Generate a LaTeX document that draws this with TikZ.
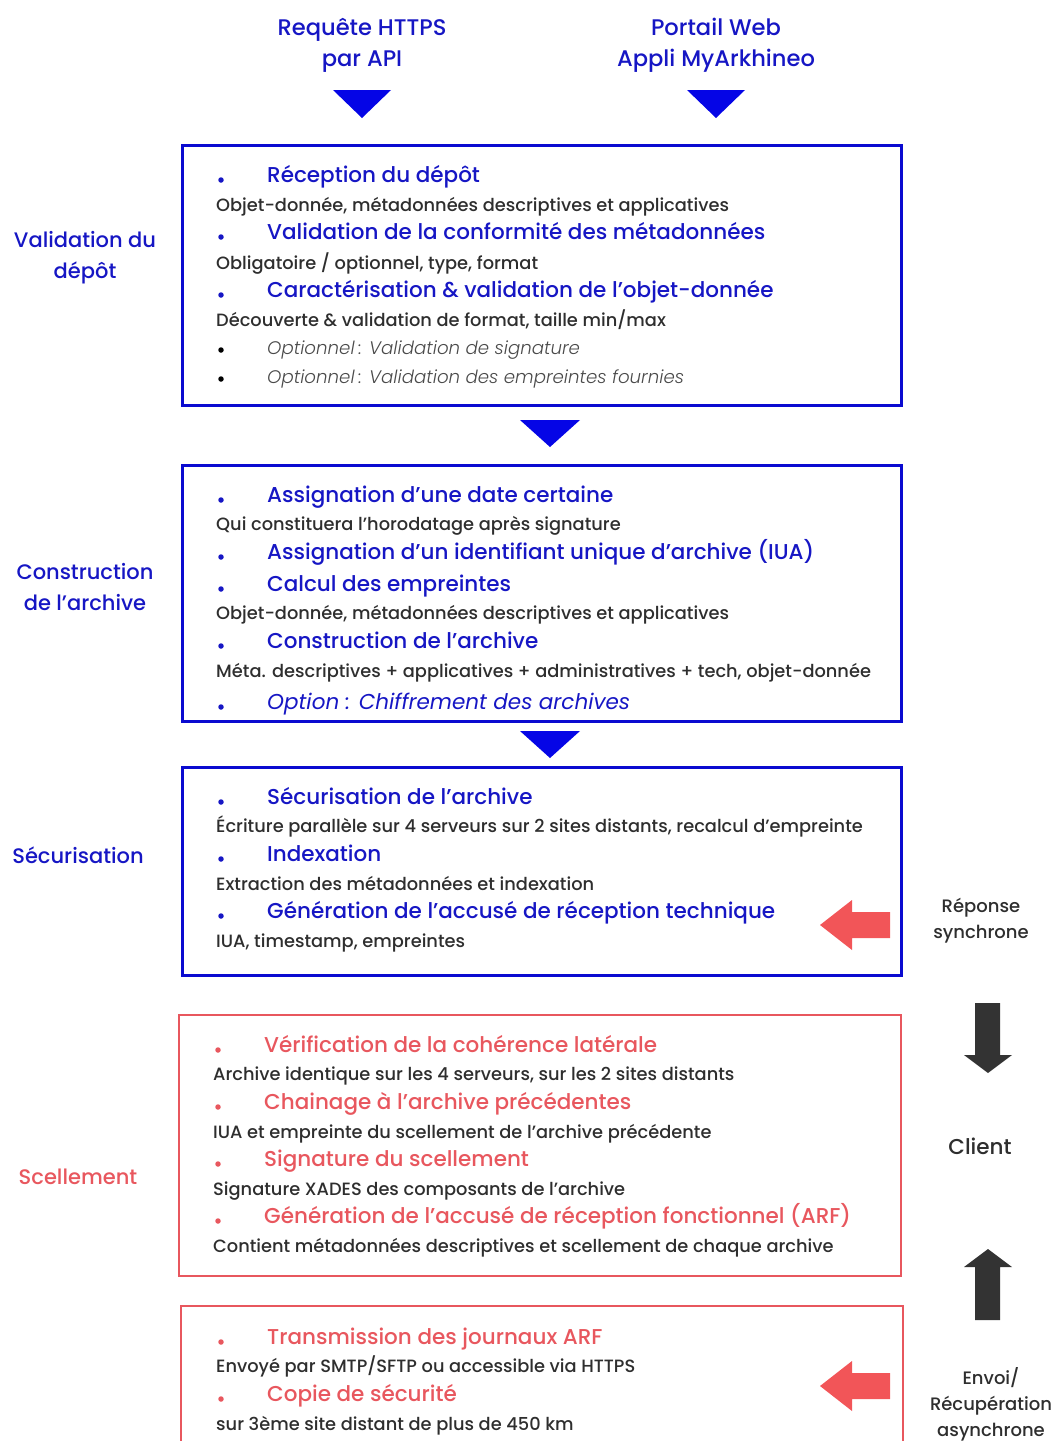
\documentclass[tikz,border=0pt]{standalone}
\usepackage{fontspec}
\IfFontExistsTF{Poppins Medium}
  {\setmainfont{Poppins}[UprightFont=* Medium,ItalicFont=* Italic]}
  {\setmainfont{Poppins}}
\IfFontExistsTF{Poppins Light Italic}
  {\newfontfamily\optfont{Poppins Light Italic}}
  {\newcommand\optfont{\itshape}}
\definecolor{bl}{HTML}{1616C4}
\definecolor{bframe}{HTML}{0A0AD0}
\definecolor{tri}{HTML}{0505E6}
\definecolor{rd}{HTML}{E8575E}
\definecolor{rarrow}{HTML}{F25558}
\definecolor{tx}{HTML}{2E2E2E}
\definecolor{gr}{HTML}{4A4A4A}
\definecolor{dk}{HTML}{333333}
\begin{document}
\begin{tikzpicture}[x=1pt,y=-1pt,
  head/.style={anchor=mid west,inner sep=0,yshift=-4pt,text=bl,font=\fontsize{21.5}{24}\selectfont},
  rhead/.style={head,text=rd},
  body/.style={anchor=mid west,inner sep=0,yshift=-3.5pt,text=tx,font=\fontsize{17.8}{20}\selectfont},
  opt/.style={anchor=mid west,inner sep=0,yshift=-3.5pt,text=gr,font=\fontsize{18.2}{20}\optfont},
  bul/.style={circle,fill=bl,inner sep=0,minimum size=5.5pt},
  rbul/.style={bul,fill=rd},
  kbul/.style={bul,fill=black},
  side/.style={align=center,inner sep=0,text=bl,font=\fontsize{21}{31}\selectfont},
  toplab/.style={anchor=base,inner sep=0,text=bl,font=\fontsize{22.6}{24}\selectfont},
  rlab/.style={align=center,inner sep=0,text=tx,font=\fontsize{18}{26}\selectfont},
  bbox/.style={draw=bframe,line width=3,inner sep=0},
  rbox/.style={draw=rd,line width=2.5,inner sep=0},
  tritip/.style={fill=tri},
  redarrow/.style={fill=rarrow},
  blackarrow/.style={fill=dk}]
\useasboundingbox (0,0) rectangle (1053,1441);
\clip (0,0) rectangle (1053,1441);

% top entries
\node[toplab] (r1) at (362,35) {Requête HTTPS};
\node[toplab] (r2) at (362,66.5) {par API};
\node[toplab] (p1) at (716,35) {Portail Web};
\node[toplab] (p2) at (716,66.5) {Appli MyArkhineo};
\fill[tritip] (333,90) -- (391,90) -- (362,118) -- cycle;
\fill[tritip] (687,90) -- (745,90) -- (716,118) -- cycle;

% boxes
\node[bbox,minimum width=719,minimum height=260] (B1) at (541.5,275) {};
\node[bbox,minimum width=719,minimum height=256] (B2) at (541.5,593) {};
\node[bbox,minimum width=719,minimum height=208] (B3) at (541.5,871) {};
\node[rbox,minimum width=722,minimum height=261] (B4) at (540,1145.5) {};
\draw[draw=rd,line width=2.5] (181,1460) -- (181,1306) -- (903,1306) -- (903,1460);

\fill[tritip] (520,420) -- (580,420) -- (550,447) -- cycle;
\fill[tritip] (520,731) -- (580,731) -- (550,758) -- cycle;

% side labels
\node[side] (L1) at (85,258) {Validation du\\dépôt};
\node[side] (L2) at (85,587) {Construction\\de l’archive};
\node[side] (L3) at (78,855) {Sécurisation};
\node[side,text=rd] (L4) at (78,1177) {Scellement};

% box 1
\node[bul] (u11) at (221,180) {};
\node[head] (h11) at (267,176) {Réception du dépôt};
\node[body] (t11) at (216,205) {Objet-donnée, métadonnées descriptives et applicatives};
\node[bul] (u12) at (221,237) {};
\node[head] (h12) at (267,233) {Validation de la conformité des métadonnées};
\node[body] (t12) at (216,263) {Obligatoire / optionnel, type, format};
\node[bul] (u13) at (221,295) {};
\node[head] (h13) at (267,291) {Caractérisation \& validation de l’objet-donnée};
\node[body] (t13) at (216,320) {Découverte \& validation de format, taille min/max};
\node[kbul] (u14) at (221,350) {};
\node[opt] (t14) at (267,348) {Optionnel\hspace{4pt}: Validation de signature};
\node[kbul] (u15) at (221,379) {};
\node[opt] (t15) at (267,377) {Optionnel\hspace{4pt}: Validation des empreintes fournies};

% box 2
\node[bul] (u21) at (221,500) {};
\node[head] (h21) at (267,496) {Assignation d’une date certaine};
\node[body] (t21) at (216,524) {Qui constituera l’horodatage après signature};
\node[bul] (u22) at (221,557) {};
\node[head] (h22) at (267,553) {Assignation d’un identifiant unique d’archive (IUA)};
\node[bul] (u23) at (221,589) {};
\node[head] (h23) at (267,585) {Calcul des empreintes};
\node[body] (t23) at (216,613) {Objet-donnée, métadonnées descriptives et applicatives};
\node[bul] (u24) at (221,646) {};
\node[head] (h24) at (267,642) {Construction de l’archive};
\node[body] (t24) at (216,671) {Méta. descriptives + applicatives + administratives + tech, objet-donnée};
\node[bul] (u25) at (221,707) {};
\node[head,font=\fontsize{21.5}{24}\selectfont\itshape] (h25) at (267,703) {Option : Chiffrement des archives};

% box 3
\node[bul] (u31) at (221,802) {};
\node[head] (h31) at (267,798) {Sécurisation de l’archive};
\node[body] (t31) at (216,826) {Écriture parallèle sur 4 serveurs sur 2 sites distants, recalcul d’empreinte};
\node[bul] (u32) at (221,859) {};
\node[head] (h32) at (267,855) {Indexation};
\node[body] (t32) at (216,884) {Extraction des métadonnées et indexation};
\node[bul] (u33) at (221,916) {};
\node[head] (h33) at (267,912) {Génération de l’accusé de réception technique};
\node[body] (t33) at (216,941) {IUA, timestamp, empreintes};

% box 4
\node[rbul] (u41) at (218,1050) {};
\node[rhead] (h41) at (264,1046) {Vérification de la cohérence latérale};
\node[body] (t41) at (213,1074) {Archive identique sur les 4 serveurs, sur les 2 sites distants};
\node[rbul] (u42) at (218,1107) {};
\node[rhead] (h42) at (264,1103) {Chainage à l’archive précédentes};
\node[body] (t42) at (213,1132) {IUA et empreinte du scellement de l’archive précédente};
\node[rbul] (u43) at (218,1164) {};
\node[rhead] (h43) at (264,1160) {Signature du scellement};
\node[body] (t43) at (213,1189) {Signature XADES des composants de l’archive};
\node[rbul] (u44) at (218,1221) {};
\node[rhead] (h44) at (264,1217) {Génération de l’accusé de réception fonctionnel (ARF)};
\node[body] (t44) at (213,1246) {Contient métadonnées descriptives et scellement de chaque archive};

% box 5
\node[rbul] (u51) at (221,1342) {};
\node[rhead] (h51) at (267,1338) {Transmission des journaux ARF};
\node[body] (t51) at (216,1366) {Envoyé par SMTP/SFTP ou accessible via HTTPS};
\node[rbul] (u52) at (221,1399) {};
\node[rhead] (h52) at (267,1395) {Copie de sécurité};
\node[body] (t52) at (216,1424) {sur 3ème site distant de plus de 450 km};

% right side
\fill[redarrow] (820,925) -- (852,900) -- (852,912) -- (890,912) -- (890,938) -- (852,938) -- (852,950) -- cycle;
\fill[redarrow] (820,1386) -- (852,1361) -- (852,1373) -- (890,1373) -- (890,1399) -- (852,1399) -- (852,1411) -- cycle;
\node[rlab] (R1) at (981,921) {Réponse\\synchrone};
\fill[blackarrow] (975,1003) -- (1000,1003) -- (1000,1055) -- (1012,1055) -- (988,1073) -- (964,1055) -- (975,1055) -- cycle;
\node[rlab,font=\fontsize{21.5}{24}\selectfont] (R2) at (980,1146) {Client};
\fill[blackarrow] (988,1249) -- (1012,1267) -- (1000,1267) -- (1000,1320) -- (975,1320) -- (975,1267) -- (964,1267) -- cycle;
\node[rlab] (R3) at (991,1404) {Envoi/\\Récupération\\asynchrone};
\end{tikzpicture}
\end{document}
